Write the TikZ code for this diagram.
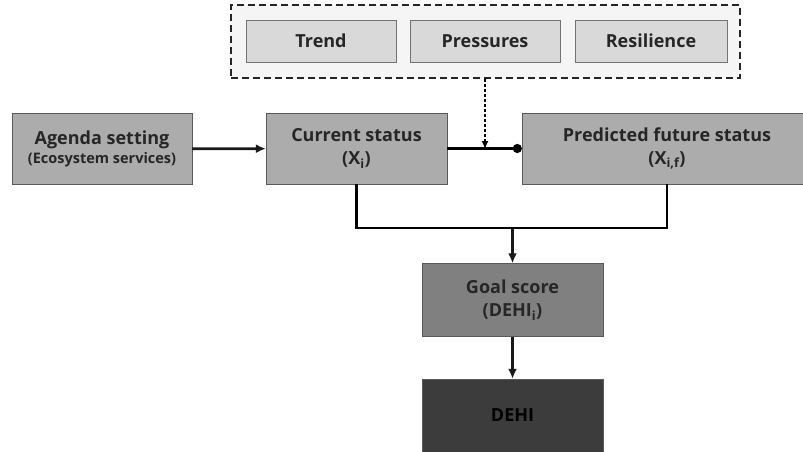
\documentclass[tikz,border=0pt]{standalone}
\usepackage{fontspec}
\setmainfont{Open Sans}
\usetikzlibrary{arrows.meta}
\definecolor{midgray}{RGB}{172,172,172}
\definecolor{lightgray}{RGB}{217,217,217}
\definecolor{goalgray}{RGB}{128,128,128}
\definecolor{darkbox}{RGB}{60,60,60}
\begin{document}
\begin{tikzpicture}
  [x=1pt,y=-1pt,
   box/.style={draw=black!65,fill=midgray,minimum width=181pt,minimum height=71pt,inner sep=0pt,align=center,
     text=black!85,font=\bfseries\fontsize{18}{23}\selectfont},
   factor/.style={draw=black!55,fill=lightgray,minimum width=150pt,minimum height=42pt,inner sep=0pt,
     text=black!85,font=\bfseries\fontsize{18}{22}\selectfont},
   link/.style={line width=2.8pt,draw=black!90,-{Latex[length=10pt,width=9pt]}}]
  \useasboundingbox (0,0) rectangle (803,452);

  \node[draw=black!85,dash pattern=on 7pt off 4pt,line width=2pt,fill=black!4,minimum width=509pt,minimum height=73pt] (group) at (485.5,41.5) {};
  \node[factor] (trend) at (321,41) {Trend};
  \node[factor] (press) at (485,41) {Pressures};
  \node[factor,minimum width=152pt] (resil) at (651,41) {Resilience};

  \node[box,minimum width=180pt] (agenda) at (102,149) {Agenda setting\\[-4pt]{\fontsize{14.5}{17}\selectfont (Ecosystem services)}};
  \node[box] (current) at (356.5,148.5) {Current status\\(X\textsubscript{i})};
  \node[box,minimum width=290pt] (future) at (667,148.5) {Predicted future status\\(X\textsubscript{i,f})};
  \node[box,fill=goalgray,minimum height=73pt] (goal) at (512.5,300) {Goal score\\(DEHI\textsubscript{i})};
  \node[box,fill=darkbox,text=black,minimum height=73pt] (dehi) at (512.5,415.5) {DEHI};

  \coordinate (join) at (512.5,228);
  \coordinate (hit) at (485,149);

  \foreach \from/\to in {agenda/current,join/goal,goal/dehi}
    \draw[link] (\from) -- (\to);
  \draw[line width=2.8pt,-{Circle[length=9pt]}] (current) -- (future);
  \draw[dash pattern=on 3pt off 2pt,line width=1.4pt,-{Latex[length=8pt,width=7pt]}] (group.south -| hit) -- (hit);
  \draw[line width=2.8pt] (current.south) |- (join) -| (future.south);
\end{tikzpicture}
\end{document}
